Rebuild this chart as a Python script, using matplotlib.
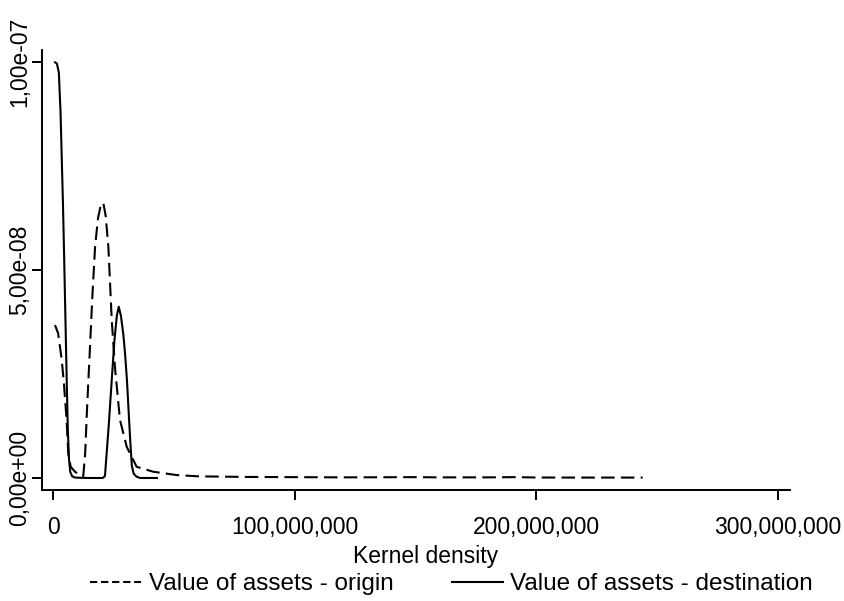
import matplotlib
matplotlib.use("Agg")
import matplotlib.pyplot as plt
from matplotlib.ticker import FuncFormatter
from matplotlib.lines import Line2D

plt.rcParams['font.family'] = ['Liberation Sans', 'DejaVu Sans']

# Value of assets (millions) and kernel density (units of 1e-8)
origin_x_m = [0.7, 2.0, 3.5, 4.5, 5.5, 6.2, 7.2, 9.0, 11.1, 12.4, 13.2, 14.0, 15.2, 16.2,
              17.3, 18.5, 19.6, 20.7, 21.7, 22.8, 24.2, 25.5, 27.6, 30.4, 34.5, 41.4,
              51.1, 60.0, 80.0, 100.0, 120.0, 150.0, 160.0, 180.0, 190.0, 200.0, 220.0, 244.0]
origin_y = [3.68, 3.48, 2.84, 2.20, 1.40, 0.59, 0.27, 0.15, 0.07, 0.04, 0.6, 1.7, 3.16, 4.4,
            5.56, 6.25, 6.55, 6.62, 6.3, 5.56, 3.8, 2.68, 1.40, 0.75, 0.27, 0.15,
            0.07, 0.04, 0.025, 0.02, 0.015, 0.02, 0.015, 0.015, 0.02, 0.012, 0.01, 0.01]

dest_x_m = [0.7, 1.5, 2.3, 3.0, 4.0, 4.5, 5.0, 5.5, 6.0, 6.5, 7.0, 7.8, 9.0, 14.0, 19.0, 20.5,
            21.4, 22.1, 23.0, 24.2, 25.3, 26.3, 27.1, 28.0, 29.0, 29.7, 30.5, 31.1, 31.8,
            32.5, 33.3, 34.5, 36.0, 40.0, 42.9]
dest_y = [10.0, 9.97, 9.75, 8.8, 6.6, 5.3, 3.9, 2.5, 1.2, 0.45, 0.15, 0.04, 0.01, 0.0, 0.0, 0.0,
          0.05, 0.6, 1.3, 2.36, 3.3, 3.9, 4.12, 3.9, 3.45, 3.0, 2.35, 1.7, 0.95,
          0.3, 0.1, 0.03, 0.0, 0.0, 0.0]

x_ticks = [0, 100_000_000, 200_000_000, 300_000_000]
y_ticks = [0.0, 5e-8, 1e-7]
legend_labels = ["Value of assets - origin", "Value of assets - destination"]
x_title = "Kernel density"

ox = [v * 1e6 for v in origin_x_m]
oy = [v * 1e-8 for v in origin_y]
dx = [v * 1e6 for v in dest_x_m]
dy = [v * 1e-8 for v in dest_y]

W, H = 844, 601
fig = plt.figure(figsize=(W / 100, H / 100), dpi=100)
ax = fig.add_axes([41.7 / W, 1 - 490 / H, (790 - 41.7) / W, (490 - 50) / H])

lw = 1.5
ax.plot(ox, oy, color='black', lw=lw, linestyle=(0, (6.5, 3)))
ax.plot(dx, dy, color='black', lw=lw, linestyle='-')

ax.set_xlim(-4.8e6, 3.05e8)
ax.set_ylim(-0.0289e-7, 1.0296e-7)
ax.set_xticks(x_ticks)
ax.set_yticks(y_ticks)
ax.xaxis.set_major_formatter(FuncFormatter(lambda v, p: f"{int(round(v)):,}"))
ax.yaxis.set_major_formatter(FuncFormatter(lambda v, p: f"{v:.2e}".replace('.', ',')))

for s in ['top', 'right']:
    ax.spines[s].set_visible(False)
for s in ['left', 'bottom']:
    ax.spines[s].set_linewidth(1.4)

fs = 16.5
ax.tick_params(axis='both', direction='out', length=7, width=1.4, labelsize=fs)
ax.tick_params(axis='x', pad=12)
ax.tick_params(axis='y', pad=0.5)
for lab in ax.get_yticklabels():
    lab.set_rotation(90)
    lab.set_va('center')

fig.text(426 / W, 1 - 563 / H, x_title, ha='center', va='baseline', fontsize=fs)

lfs = 17.5
handles = [Line2D([], [], color='black', lw=lw, linestyle=(0, (3.5, 1.8))),
           Line2D([], [], color='black', lw=lw, linestyle='-')]
fig.legend(handles, legend_labels, loc='center', bbox_to_anchor=(451.5 / W, 1 - 584 / H),
           ncol=2, frameon=False, fontsize=lfs, handlelength=2.1, handletextpad=0.3,
           columnspacing=2.4, borderpad=0, borderaxespad=0)

fig.savefig("out.png", dpi=100)
